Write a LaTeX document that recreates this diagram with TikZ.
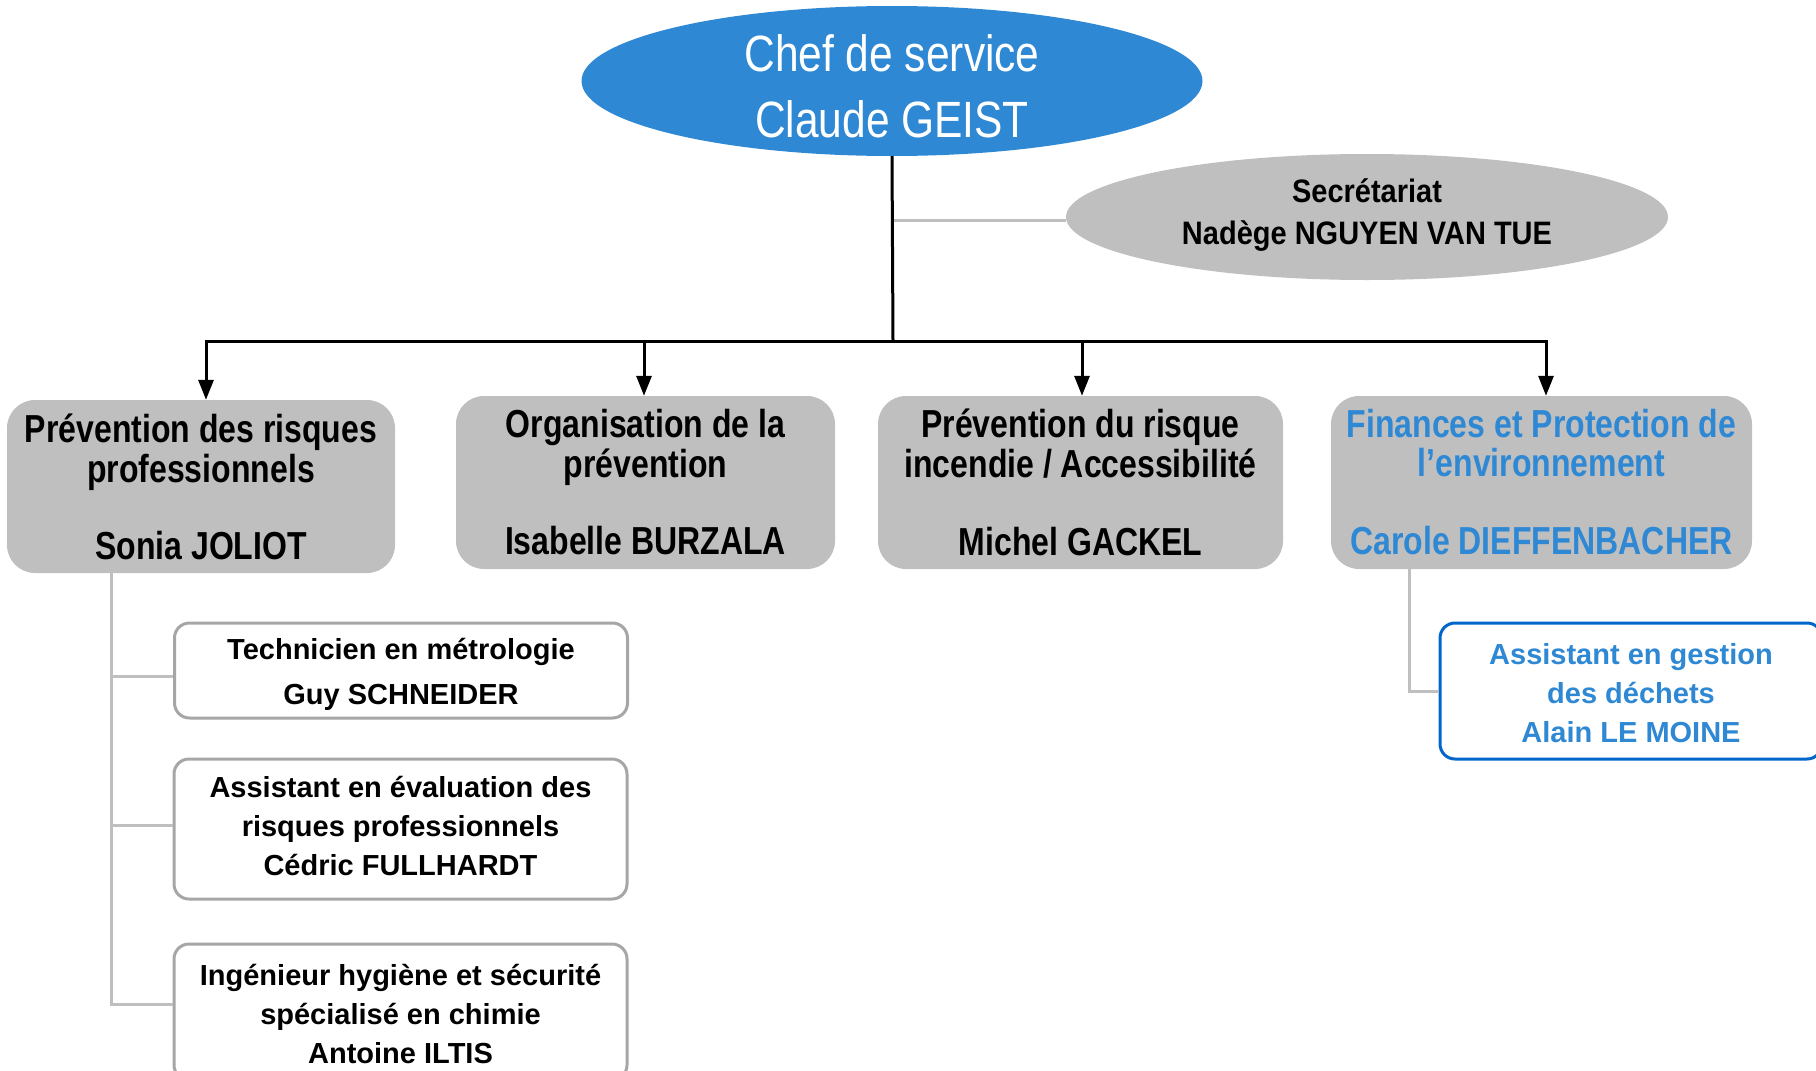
\documentclass[tikz,border=0pt]{standalone}
\usepackage{fontspec}
\setmainfont{Liberation Sans}
\usepackage{graphicx}
\usetikzlibrary{shapes.geometric,arrows.meta}
\definecolor{chefblue}{HTML}{2E88D4}
\definecolor{boxgray}{HTML}{BFBFBF}
\definecolor{subgray}{HTML}{A6A6A6}
\definecolor{txtblue}{HTML}{2E88D4}
\definecolor{bordblue}{HTML}{0066CC}
\newcommand{\vtext}[3]{\raisebox{#1}[\height][\depth]{\scalebox{1}[#2]{\begin{tabular}{@{}c@{}}#3\end{tabular}}}}
\newcommand{\ltext}[2]{\raisebox{#1}[\height][\depth]{\begin{tabular}{@{}c@{}}#2\end{tabular}}}
\begin{document}
\begin{tikzpicture}[x=1pt,y=-1pt,
  chefstyle/.style={ellipse, fill=chefblue, draw=none, inner sep=0pt},
  cheftext/.style={inner sep=0pt, text=white, font=\fontsize{42.5}{55}\selectfont},
  secstyle/.style={ellipse, fill=boxgray, draw=none, inner sep=0pt},
  sectext/.style={inner sep=0pt, font=\bfseries\fontsize{29}{37}\selectfont},
  lvltwo/.style={rectangle, rounded corners=28pt, fill=boxgray, draw=none, inner sep=0pt,
    minimum height=173pt, font=\bfseries\fontsize{32}{31.2}\selectfont},
  subbox/.style={rectangle, rounded corners=15pt, fill=white, draw=subgray, line width=3pt,
    inner sep=0pt, minimum width=453pt, font=\bfseries\fontsize{29}{39}\selectfont},
  bluebox/.style={rectangle, rounded corners=15pt, fill=white, draw=bordblue, line width=3pt,
    inner sep=0pt, text=txtblue, font=\bfseries\fontsize{29}{39}\selectfont},
  blk/.style={line width=3pt, black},
  arr/.style={line width=3pt, black, -{Triangle[length=20pt,width=15pt]}},
  gline/.style={line width=3pt, boxgray},
]
\useasboundingbox (0,0) rectangle (1816,1071);

% top
\node[chefstyle, minimum width=621pt, minimum height=150pt] (chef) at (892,81) {};
\node[cheftext] (cheft) at (892,91) {\vtext{0pt}{1.2}{Chef de service\\Claude GEIST}};
\node[secstyle, minimum width=602pt, minimum height=126pt] (sec) at (1367,217) {};
\node[sectext] (sect) at (1367,215) {\vtext{0pt}{1.12}{Secrétariat\\Nadège NGUYEN VAN TUE}};

% level two
\node[lvltwo, minimum width=388pt] (box1) at (201,486.5)
  {\vtext{-6pt}{1.22}{Prévention des risques\\professionnels\\ \\Sonia JOLIOT}};
\node[lvltwo, minimum width=379pt] (box2) at (645.5,482.5)
  {\vtext{-5pt}{1.22}{Organisation de la\\prévention\\ \\Isabelle BURZALA}};
\node[lvltwo, minimum width=405pt] (box3) at (1080.5,482.5)
  {\vtext{-5pt}{1.22}{Prévention du risque\\incendie / Accessibilité\\ \\Michel GACKEL}};
\node[lvltwo, minimum width=421pt, text=txtblue] (box4) at (1541.5,482.5)
  {\vtext{-5pt}{1.22}{Finances et Protection de\\l’environnement\\ \\Carole DIEFFENBACHER}};

% sub boxes
\node[subbox, minimum height=95pt, font=\bfseries\fontsize{29}{45}\selectfont] (sub1) at (401,670.5)
  {\ltext{-2pt}{Technicien en métrologie\\Guy SCHNEIDER}};
\node[subbox, minimum height=140pt] (sub2) at (400.5,829)
  {\ltext{0pt}{Assistant en évaluation des\\risques professionnels\\Cédric FULLHARDT}};
\node[subbox, minimum height=136pt] (sub3) at (400.5,1012)
  {\ltext{-5pt}{Ingénieur hygiène et sécurité\\spécialisé en chimie\\Antoine ILTIS}};
\node[bluebox, minimum width=382pt, minimum height=136pt] (blue) at (1631,691)
  {\ltext{-5pt}{Assistant en gestion\\des déchets\\Alain LE MOINE}};

% connectors
\coordinate (bus) at (893,341);
\coordinate (b1) at (206,341);
\coordinate (b2) at (644,341);
\coordinate (b3) at (1082,341);
\coordinate (b4) at (1546,341);
\draw[gline] (chef.south |- 0,220) -- (sec.west |- 0,220);
\draw[blk] (chef.south) -- (bus);
\draw[blk, line cap=rect] (b1) -- (b4);
\draw[arr] (b1) -- (b1 |- box1.north);
\draw[arr] (b2) -- (b2 |- box2.north);
\draw[arr] (b3) -- (b3 |- box3.north);
\draw[arr] (b4) -- (b4 |- box4.north);

\coordinate (lv) at ([xshift=105pt]box1.south west);
\draw[gline] (lv) |- (sub3.west |- 0,1004);
\draw[gline] (lv |- 0,676) -- (sub1.west |- 0,676);
\draw[gline] (lv |- 0,825) -- (sub2.west |- 0,825);
\draw[gline] ([xshift=79pt]box4.south west) |- (blue.west);
\end{tikzpicture}
\end{document}
